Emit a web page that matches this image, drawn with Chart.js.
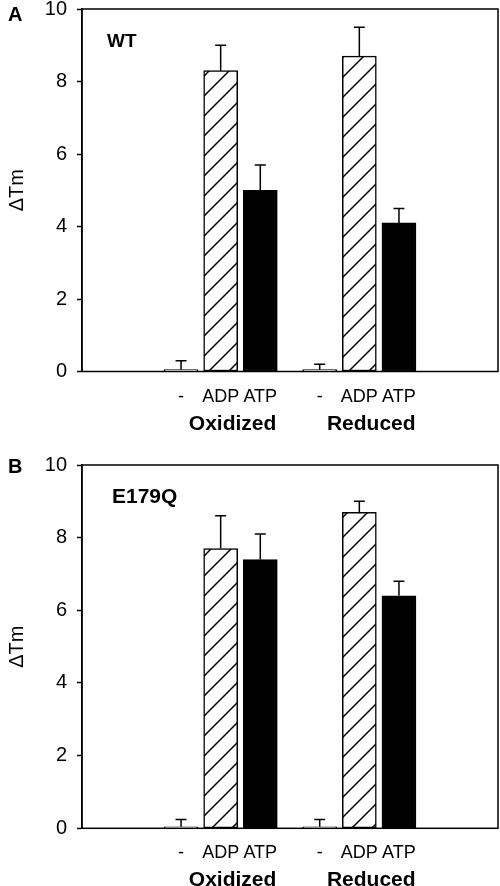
<!DOCTYPE html>
<html>
<head>
<meta charset="utf-8">
<script src="https://cdn.jsdelivr.net/npm/chart.js@4.4.1/dist/chart.umd.min.js"></script>
<style>
    body { margin: 0; background: #fff; }
    canvas { display: block; }
</style>
</head>
<body>
<div style="width:500px;height:440px"><canvas id="panelA"></canvas></div>
<div style="width:500px;height:446px"><canvas id="panelB"></canvas></div>
<script>
    "use strict";

    // Data
    var treatments = ["-", "ADP", "ATP"];
    var conditions = ["Oxidized", "Reduced"];
    var yTicks = [0, 2, 4, 6, 8, 10];

    var wtNone = [0.05, 0.05];
    var wtADP = [8.3, 8.7];
    var wtATP = [5.0, 4.1];
    var wtNoneErr = [0.25, 0.15];
    var wtADPErr = [0.7, 0.8];
    var wtATPErr = [0.7, 0.4];

    var e179qNone = [0.04, 0.04];
    var e179qADP = [7.7, 8.7];
    var e179qATP = [7.4, 6.4];
    var e179qNoneErr = [0.2, 0.2];
    var e179qADPErr = [0.9, 0.3];
    var e179qATPErr = [0.7, 0.4];

    var FONT = "'Liberation Sans', Arial, Helvetica, sans-serif";

    // Hatch pattern for the ADP bars
    var hatch = (function () {
        var c = document.createElement("canvas");
        c.width = 20; c.height = 20;
        var g = c.getContext("2d");
        g.fillStyle = "#fff";
        g.fillRect(0, 0, 20, 20);
        g.strokeStyle = "#000";
        g.lineWidth = 1.5;
        g.beginPath();
        g.moveTo(-2, 22); g.lineTo(22, -2);
        g.moveTo(-2, 2); g.lineTo(2, -2);
        g.moveTo(18, 22); g.lineTo(22, 18);
        g.stroke();
        return document.createElement("canvas").getContext("2d").createPattern(c, "repeat");
    })();

    var fills = ["#fff", hatch, "#000"];

    // slot position of a bar along the linear x axis
    function slot(cond, treat) {
        return 2.5 + cond * 3.5 + treat;
    }

    // Error bars, frame and text labels
    var decorations = {
        id: "decorations",
        afterDatasetsDraw: function (chart) {
            var ctx = chart.ctx;
            var area = chart.chartArea;
            var xs = chart.scales.x, ys = chart.scales.y;
            ctx.save();
            ctx.strokeStyle = "#000";
            ctx.lineWidth = 1.5;
            chart.data.datasets.forEach(function (ds, di) {
                var meta = chart.getDatasetMeta(di);
                meta.data.forEach(function (bar, i) {
                    var top = ys.getPixelForValue(ds.data[i].y + ds.errors[i]);
                    ctx.beginPath();
                    ctx.moveTo(bar.x, bar.y);
                    ctx.lineTo(bar.x, top);
                    ctx.moveTo(bar.x - 5.5, top);
                    ctx.lineTo(bar.x + 5.5, top);
                    ctx.stroke();
                });
            });
            ctx.strokeRect(area.left, area.top, area.right - area.left, area.bottom - area.top);

            ctx.fillStyle = "#000";
            ctx.textAlign = "center";
            ctx.textBaseline = "alphabetic";
            ctx.font = "18px " + FONT;
            conditions.forEach(function (c, ci) {
                treatments.forEach(function (t, ti) {
                    ctx.fillText(t, xs.getPixelForValue(slot(ci, ti)), area.bottom + 30);
                });
            });
            ctx.font = "bold 21px " + FONT;
            conditions.forEach(function (c, ci) {
                ctx.fillText(c, xs.getPixelForValue(slot(ci, 1) + 0.3), area.bottom + 58);
            });

            var opts = chart.options.plugins.decorations;
            ctx.textAlign = "left";
            ctx.font = "bold 20px " + FONT;
            ctx.fillText(opts.letter, 8, opts.letterY);
            ctx.font = "bold " + opts.labelSize + "px " + FONT;
            ctx.fillText(opts.label, opts.labelX, area.top + 38);
            ctx.restore();
        }
    };

    function makePanel(id, values, errors, letter, letterY, label, labelX, labelSize, padTop, padBottom) {
        var datasets = treatments.map(function (t, ti) {
            return {
                label: t,
                data: conditions.map(function (c, ci) {
                    return { x: slot(ci, ti), y: values[ti][ci] };
                }),
                errors: errors[ti],
                backgroundColor: fills[ti],
                borderColor: "#000",
                borderWidth: 1.5,
                borderSkipped: false,
                barThickness: 34,
                grouped: false
            };
        });

        return new Chart(document.getElementById(id), {
            type: "bar",
            data: { datasets: datasets },
            options: {
                responsive: true,
                maintainAspectRatio: false,
                animation: false,
                layout: { padding: { left: 0, right: 2, top: padTop, bottom: padBottom } },
                plugins: {
                    legend: { display: false },
                    tooltip: { enabled: false },
                    decorations: {
                        letter: letter, letterY: letterY,
                        label: label, labelX: labelX, labelSize: labelSize
                    }
                },
                scales: {
                    x: {
                        type: "linear",
                        min: 0,
                        max: 10.5,
                        offset: false,
                        display: false
                    },
                    y: {
                        min: 0,
                        max: 10,
                        afterBuildTicks: function (scale) {
                            scale.ticks = yTicks.map(function (v) { return { value: v }; });
                        },
                        afterFit: function (scale) {
                            scale.width = 82;
                            scale.paddingTop = 0;
                            scale.paddingBottom = 0;
                        },
                        border: { display: true, color: "#000", width: 1.5 },
                        grid: {
                            drawOnChartArea: false,
                            drawTicks: true,
                            tickLength: 5,
                            tickWidth: 1.5,
                            tickColor: "#000"
                        },
                        ticks: {
                            color: "#000",
                            padding: 10,
                            font: { family: FONT, size: 20, lineHeight: 1 }
                        },
                        title: {
                            display: true,
                            text: "ΔTm",
                            color: "#000",
                            padding: { top: 5, bottom: 0 },
                            font: { family: FONT, size: 20 }
                        }
                    }
                }
            },
            plugins: [decorations]
        });
    }

    makePanel("panelA",
        [wtNone, wtADP, wtATP],
        [wtNoneErr, wtADPErr, wtATPErr],
        "A", 21, "WT", 107, 19, 9, 68.5);

    makePanel("panelB",
        [e179qNone, e179qADP, e179qATP],
        [e179qNoneErr, e179qADPErr, e179qATPErr],
        "B", 33, "E179Q", 112, 21, 25, 57.7);
</script>
</body>
</html>
